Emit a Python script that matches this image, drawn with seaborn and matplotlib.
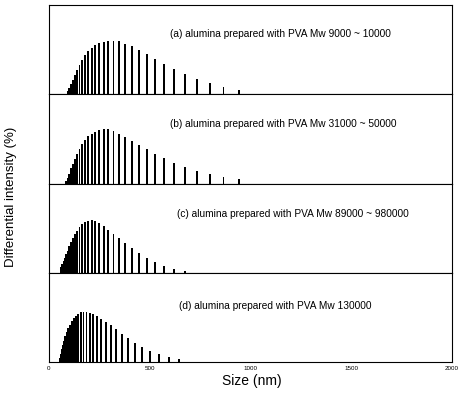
import numpy as np
import pandas as pd
import matplotlib
matplotlib.use("Agg")
import matplotlib.pyplot as plt
import seaborn as sns

# === Data (size bins in nm, differential intensity in %) ===
sizes_a = [92.2, 100.2, 108.8, 118.3, 128.5, 139.6, 151.7, 164.8, 179.1, 194.5,
           211.4, 229.7, 249.5, 271.1, 294.6, 320.0, 347.7, 377.8, 410.5, 446.0,
           484.6, 526.5, 572.0, 621.5, 675.2, 733.6, 797.1, 866.1, 941.0]
intens_a = [0.37, 0.67, 1.11, 1.56, 2.15, 2.67, 3.26, 3.78, 4.30, 4.78,
            5.11, 5.37, 5.63, 5.78, 5.85, 5.85, 5.81, 5.56, 5.26, 4.89,
            4.37, 3.85, 3.33, 2.74, 2.22, 1.70, 1.22, 0.81, 0.48]

sizes_b = [84.9, 92.2, 100.2, 108.8, 118.3, 128.5, 139.6, 151.7, 164.8, 179.1,
           194.5, 211.4, 229.7, 249.5, 271.1, 294.6, 320.0, 347.7, 377.8, 410.5,
           446.0, 484.6, 526.5, 572.0, 621.5, 675.2, 733.6, 797.1, 866.1, 941.0]
intens_b = [0.30, 0.56, 1.04, 1.67, 2.15, 2.70, 3.26, 3.81, 4.30, 4.81,
            5.19, 5.48, 5.70, 5.89, 5.96, 5.93, 5.78, 5.48, 5.11, 4.70,
            4.26, 3.78, 3.26, 2.78, 2.26, 1.78, 1.33, 1.00, 0.74, 0.48]

sizes_c = [60.9, 66.2, 71.9, 78.1, 84.9, 92.2, 100.2, 108.8, 118.3, 128.5,
           139.6, 151.7, 164.8, 179.1, 194.5, 211.4, 229.7, 249.5, 271.1, 294.6,
           320.0, 347.7, 377.8, 410.5, 446.0, 484.6, 526.5, 572.0, 621.5, 675.2]
intens_c = [0.63, 0.96, 1.30, 1.63, 2.04, 2.44, 2.89, 3.33, 3.81, 4.22,
            4.63, 5.00, 5.33, 5.59, 5.70, 5.78, 5.67, 5.41, 5.11, 4.70,
            4.26, 3.78, 3.22, 2.67, 2.15, 1.63, 1.19, 0.78, 0.44, 0.22]

sizes_d = [53.5, 58.2, 63.2, 68.7, 74.6, 81.1, 88.1, 95.7, 104.0, 113.0,
           122.8, 133.4, 144.9, 157.5, 171.1, 185.9, 201.9, 219.4, 238.4, 259.0,
           281.4, 305.7, 332.2, 360.9, 392.1, 426.0, 462.9, 502.9, 546.4, 593.7, 645.0]
intens_d = [0.44, 0.93, 1.41, 1.89, 2.33, 2.81, 3.26, 3.70, 4.11, 4.52,
            4.78, 5.07, 5.26, 5.44, 5.52, 5.52, 5.41, 5.26, 5.04, 4.74,
            4.37, 4.04, 3.59, 3.11, 2.63, 2.11, 1.70, 1.26, 0.89, 0.59, 0.33]

labels = ["(a) alumina prepared with PVA Mw 9000 ~ 10000",
          "(b) alumina prepared with PVA Mw 31000 ~ 50000",
          "(c) alumina prepared with PVA Mw 89000 ~ 980000",
          "(d) alumina prepared with PVA Mw 130000"]
xticks = [0, 500, 1000, 1500, 2000]

panels = [(sizes_a, intens_a), (sizes_b, intens_b), (sizes_c, intens_c), (sizes_d, intens_d)]
label_x = [600, 600, 637, 647]
label_y = [0.68, 0.667, 0.66, 0.63]

# === Style ===
sns.set_style("white")
plt.rcParams["font.family"] = ["Liberation Sans", "DejaVu Sans"]
plt.rcParams["text.color"] = "black"
plt.rcParams["xtick.color"] = "black"

fig, axes = plt.subplots(4, 1, figsize=(4.6, 3.93), dpi=100, sharex=True)
fig.subplots_adjust(left=49 / 460, right=452 / 460, top=1 - 5 / 393, bottom=1 - 362 / 393, hspace=0)

bar_w = 9  # nm

for i, (ax, (x, y)) in enumerate(zip(axes, panels)):
    df = pd.DataFrame({"size": x, "intensity": y})
    sns.barplot(data=df, x="size", y="intensity", native_scale=True, color="black",
                saturation=1, errorbar=None, linewidth=0, ax=ax)
    # constant bar width, like the instrument plot
    for p in ax.patches:
        c = p.get_x() + p.get_width() / 2
        p.set_width(bar_w)
        p.set_x(c - bar_w / 2)
    ax.set_xlim(0, 2000)
    ax.set_ylim(0, 9.8)
    ax.set_yticks([])
    ax.set_xlabel("")
    ax.set_ylabel("")
    ax.text(label_x[i], label_y[i], labels[i], transform=ax.get_xaxis_transform(),
            fontsize=7.25, va="center", ha="left", color="black")
    for s in ax.spines.values():
        s.set_color("black")
        s.set_linewidth(0.8)
    ax.tick_params(axis="x", length=0)

axes[-1].set_xticks(xticks)
axes[-1].set_xticklabels([str(t) for t in xticks])
axes[-1].tick_params(axis="x", labelsize=4.5, length=2, direction="in", pad=3, colors="black")

fig.text(252 / 460, 1 - 381 / 393, "Size (nm)", fontsize=10, ha="center", va="center", color="black")
fig.text(11 / 460, 1 - 197 / 393, "Differential intensity (%)", fontsize=9.5,
         rotation=90, ha="center", va="center", color="black")

plt.savefig("out.png", dpi=100)
